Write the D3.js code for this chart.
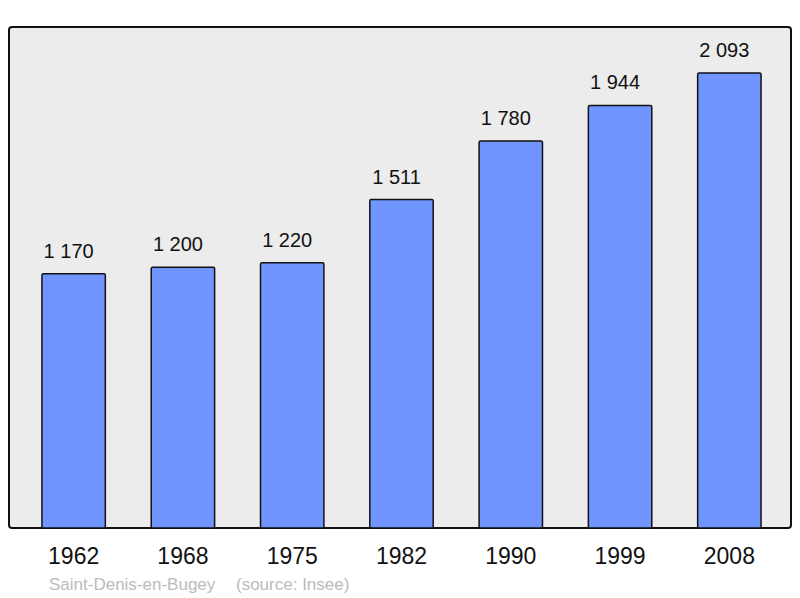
<!DOCTYPE html>
<html>
<head>
<meta charset="utf-8">
<script src="https://cdn.jsdelivr.net/npm/d3@7"></script>
<style>
  body { margin: 0; background: #fff; }
  text { font-family: "Liberation Sans", Arial, sans-serif; }
</style>
</head>
<body>
<svg width="800" height="598"></svg>
<script>
// population per census year
var years = ["1962", "1968", "1975", "1982", "1990", "1999", "2008"];
var population = [1170, 1200, 1220, 1511, 1780, 1944, 2093];
var commune = "Saint-Denis-en-Bugey";
var source = "(source: Insee)";

var svg = d3.select("svg"),
    width = +svg.attr("width"),
    height = +svg.attr("height");

var data = years.map(function (y, i) { return { year: y, value: population[i] }; });

// background panel
svg.append("rect")
    .attr("x", 9)
    .attr("y", 27)
    .attr("width", 782)
    .attr("height", 501)
    .attr("rx", 3)
    .style("fill", "#ececec")
    .style("stroke", "#111")
    .style("stroke-width", 2);

var x = d3.scaleBand()
    .domain(years)
    .range([19, 784])
    .paddingInner(0.42)
    .paddingOuter(0.21);

var y = d3.scaleLinear()
    .domain([0, 2300])
    .range([528, 28]);

svg.append("g")
    .selectAll("rect")
    .data(data)
    .enter().append("rect")
    .attr("x", function (d) { return x(d.year); })
    .attr("y", function (d) { return y(d.value); })
    .attr("width", x.bandwidth())
    .attr("height", function (d) { return y(0) - y(d.value); })
    .attr("rx", 1.5)
    .style("fill", "#7095ff")
    .style("stroke", "#111")
    .style("stroke-width", 1.5);

// value labels above the bars (sit a little left of centre, like the original)
svg.append("g")
    .selectAll("text")
    .data(data)
    .enter().append("text")
    .attr("x", function (d) { return x(d.year) + x.bandwidth() / 2 - 5; })
    .attr("y", function (d) { return y(d.value) - 16; })
    .attr("text-anchor", "middle")
    .style("font-size", "20px")
    .style("fill", "#111")
    .text(function (d) { return d3.format(",")(d.value).replace(/,/g, " "); });

// year labels
var xAxis = svg.append("g")
    .attr("transform", "translate(0,528)")
    .call(d3.axisBottom(x).tickSize(0).tickPadding(0));
xAxis.select(".domain").remove();
xAxis.selectAll("text")
    .attr("dy", null)
    .attr("y", 36)
    .style("font-size", "23px")
    .style("font-family", "'Liberation Sans', Arial, sans-serif")
    .style("fill", "#111");

// footer
svg.append("text")
    .attr("x", 49)
    .attr("y", 590)
    .style("font-size", "17px")
    .style("fill", "#bbb")
    .text(commune);

svg.append("text")
    .attr("x", 236)
    .attr("y", 590)
    .style("font-size", "17px")
    .style("fill", "#bbb")
    .text(source);
</script>
</body>
</html>
